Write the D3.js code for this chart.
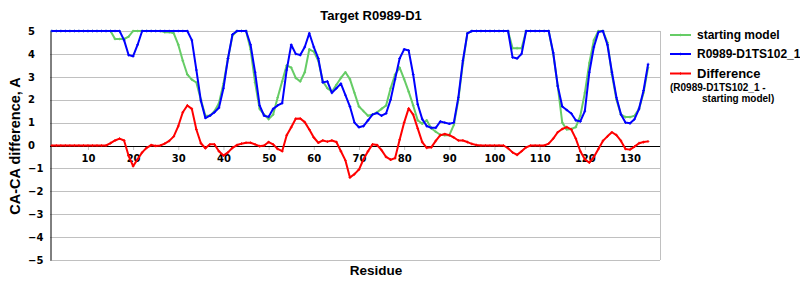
<!DOCTYPE html>
<html>
<head>
<meta charset="utf-8">
<script src="https://cdn.jsdelivr.net/npm/d3@7"></script>
<style>
    body { margin: 0; background: #ffffff; }
    text { font-family: "Liberation Sans", Arial, sans-serif; font-weight: bold; fill: #000; }
    .tick text { font-family: "DejaVu Sans", Verdana, sans-serif; font-size: 10px; }
</style>
</head>
<body>
<script>
"use strict";
// residues run from 2 to 134, one value per residue
const firstResidue = 2
const lastResidue = 134

const startingModel = [
    5, 5, 5, 5, 5, 5, 5, 5, 5, 5,
    5, 5, 5, 5, 4.65, 4.65, 4.65, 4.75, 5, 5,
    5, 5, 5, 5, 5, 4.95, 4.95, 4.9, 4.4, 3.7,
    3.1, 2.88, 2.75, 2.0, 1.3, 1.3, 1.5, 1.85, 2.7, 3.8,
    4.8, 5, 5, 5, 4.2, 2.75, 1.6, 1.35, 1.15, 1.35,
    2.1, 2.8, 3.5, 3.4, 2.95, 2.8, 3.2, 4.2, 4.1, 3.7,
    2.8, 2.5, 2.35, 2.65, 2.95, 3.2, 2.9, 2.3, 1.7, 1.5,
    1.3, 1.35, 1.45, 1.6, 1.75, 2.5, 3.1, 3.4, 2.9, 2.35,
    1.75, 1.1, 0.95, 1.1, 0.75, 0.6, 0.47, 0.45, 0.45, 0.9,
    2.0, 3.6, 4.9, 5, 5, 5, 5, 5, 5, 5,
    5, 5, 4.25, 4.25, 4.25, 5, 5, 5, 5, 5,
    5, 4.0, 2.6, 1.0, 0.7, 0.72, 0.8, 1.3, 2.3, 3.6,
    4.6, 5, 5, 4.5, 3.1, 2.0, 1.35, 1.24, 1.24, 1.3,
    1.6, 2.3, 3.4
]

const targetModel = [
    5, 5, 5, 5, 5, 5, 5, 5, 5, 5,
    5, 5, 5, 5, 5, 5, 4.6, 3.95, 3.9, 4.4,
    5, 5, 5, 5, 5, 5, 5, 5, 5, 5,
    5, 4.6, 3.3, 1.95, 1.2, 1.3, 1.45, 1.65, 2.5, 3.8,
    4.85, 5, 5, 5, 4.4, 3.2, 1.75, 1.3, 1.25, 1.6,
    1.75, 1.85, 3.3, 4.4, 4.0, 3.95, 4.3, 4.9, 4.3, 3.8,
    2.75, 2.8, 2.3, 2.5, 2.7, 2.2, 1.7, 1.0, 0.8, 0.85,
    1.1, 1.35, 1.42, 1.3, 1.4, 2.0, 2.9, 3.8, 4.2, 4.15,
    3.1, 1.8, 1.15, 0.85, 0.77, 0.77, 1.05, 1.0, 0.95, 1.0,
    2.1, 3.7, 4.9, 5, 5, 5, 5, 5, 5, 5,
    5, 5, 3.85, 3.8, 4.0, 5, 5, 5, 5, 5,
    5, 4.05, 2.6, 1.7, 1.55, 1.4, 1.1, 1.05, 1.5, 3.2,
    4.3, 4.95, 5, 4.4, 3.2, 2.1, 1.35, 1.0, 0.97, 1.15,
    1.6, 2.4, 3.55
]

const difference = [
    0, 0, 0, 0, 0, 0, 0, 0, 0, 0,
    0, 0, 0, 0.1, 0.22, 0.3, 0.22, -0.45, -0.9, -0.6,
    -0.3, -0.1, 0.02, -0.02, 0, 0.08, 0.2, 0.4, 0.85, 1.45,
    1.75, 1.6, 0.7, 0.1, -0.12, 0.05, 0.05, -0.25, -0.44, -0.3,
    -0.1, 0.02, 0.08, 0.12, 0.12, 0.05, -0.03, 0, 0.15, 0.05,
    -0.15, -0.25, 0.45, 0.8, 1.17, 1.18, 1.02, 0.7, 0.35, 0.12,
    0.22, 0.17, 0.22, 0.15, -0.25, -0.65, -1.4, -1.25, -1.05, -0.6,
    -0.25, 0.05, 0.02, -0.2, -0.5, -0.62, -0.55, 0.25, 1.0, 1.62,
    1.35, 0.75, 0.15, -0.1, -0.08, 0.2, 0.45, 0.5, 0.45, 0.35,
    0.22, 0.22, 0.15, 0.07, 0.02, 0, 0, 0, 0, 0,
    0, -0.12, -0.3, -0.41, -0.25, -0.08, 0, 0, 0, 0,
    0.08, 0.3, 0.58, 0.72, 0.8, 0.7, 0.3, -0.25, -0.6, -0.75,
    -0.5, -0.15, 0.2, 0.4, 0.58, 0.45, 0.2, -0.15, -0.18, -0.05,
    0.1, 0.15, 0.18
]

const xTickValues = [10, 20, 30, 40, 50, 60, 70, 80, 90, 100, 110, 120, 130]
const yTickValues = [5, 4, 3, 2, 1, 0, -1, -2, -3, -4, -5]
const seriesNames = ["starting model", "R0989-D1TS102_1", "Difference"]
const seriesColors = ["#66cc66", "#0000ff", "#ff0000"]

const residues = d3.range(firstResidue, lastResidue + 1)

// dimensions for svg and plot area
const measurements = {
    width: 800,
    height: 300,
    plotLeft: 50,
    plotRight: 660,
    plotTop: 31,
    plotBottom: 260
}

const svg = d3.select("body").append("svg")
    .attr("width", measurements.width)
    .attr("height", measurements.height)

svg.append("rect")
    .attr("width", measurements.width)
    .attr("height", measurements.height)
    .attr("fill", "#ffffff")

const scaleX = d3.scaleLinear()
    .domain([1.6, 136.64])
    .range([measurements.plotLeft, measurements.plotRight])

const scaleY = d3.scaleLinear()
    .domain([-5, 5])
    .range([measurements.plotBottom, measurements.plotTop])

// horizontal grid lines
svg.append("g")
    .selectAll("line")
    .data(yTickValues.filter((v) => v !== 0))
    .enter()
    .append("line")
        .attr("x1", measurements.plotLeft)
        .attr("x2", measurements.plotRight)
        .attr("y1", (d) => Math.round(scaleY(d)) + 0.5)
        .attr("y2", (d) => Math.round(scaleY(d)) + 0.5)
        .attr("stroke", "#c0c0c0")
        .attr("stroke-width", 1)

// right border of the plot area
svg.append("line")
    .attr("x1", measurements.plotRight + 0.5)
    .attr("x2", measurements.plotRight + 0.5)
    .attr("y1", measurements.plotTop)
    .attr("y2", measurements.plotBottom)
    .attr("stroke", "#c0c0c0")

// x axis sits on the zero line
const xAxis = d3.axisBottom(scaleX)
    .tickValues(xTickValues)
    .tickSize(4)
    .tickPadding(5)
    .tickFormat(d3.format("d"))

const xAxisGroup = svg.append("g")
    .attr("transform", `translate(0,${Math.round(scaleY(0))})`)
    .call(xAxis)
xAxisGroup.select(".domain").remove()
xAxisGroup.selectAll(".tick line").attr("stroke", "#c0c0c0")

svg.append("line")
    .attr("x1", measurements.plotLeft)
    .attr("x2", measurements.plotRight)
    .attr("y1", Math.round(scaleY(0)) + 0.5)
    .attr("y2", Math.round(scaleY(0)) + 0.5)
    .attr("stroke", "#000000")

// y axis, labels left aligned like the original
const yAxis = d3.axisLeft(scaleY)
    .tickValues(yTickValues)
    .tickSize(0)
    .tickPadding(0)
    .tickFormat(d3.format("d"))

const yAxisGroup = svg.append("g")
    .attr("transform", `translate(${measurements.plotLeft},0)`)
    .call(yAxis)
yAxisGroup.select(".domain")
    .attr("stroke", "#000000")
    .attr("transform", "translate(0.5,0)")
yAxisGroup.selectAll(".tick text")
    .attr("text-anchor", "start")
    .attr("x", -22)

// series lines
const allSeries = [startingModel, targetModel, difference]
const line = d3.line()
    .x((d, i) => scaleX(residues[i]))
    .y((d) => scaleY(d))

const marker = d3.symbol().type(d3.symbolCross).size(4)

allSeries.forEach((values, s) => {
    const g = svg.append("g")
    g.append("path")
        .datum(values)
        .attr("d", line)
        .attr("fill", "none")
        .attr("stroke", seriesColors[s])
        .attr("stroke-width", 2)
        .attr("stroke-linejoin", "round")
    g.selectAll(".marker")
        .data(values)
        .enter()
        .append("path")
            .attr("class", "marker")
            .attr("d", marker)
            .attr("transform", (d, i) => `translate(${scaleX(residues[i])},${scaleY(d)})`)
            .attr("fill", seriesColors[s])
})

// titles
svg.append("text")
    .attr("x", 371)
    .attr("y", 19.5)
    .attr("text-anchor", "middle")
    .style("font-size", "13px")
    .text("Target R0989-D1")

svg.append("text")
    .attr("x", 376)
    .attr("y", 275)
    .attr("text-anchor", "middle")
    .style("font-size", "13.5px")
    .text("Residue")

svg.append("text")
    .attr("transform", "translate(20,146) rotate(-90)")
    .attr("text-anchor", "middle")
    .style("font-size", "14.5px")
    .text("CA-CA difference, A")

// legend
const legendY = [35, 54, 73.5]
const legend = svg.append("g")
seriesNames.forEach((name, s) => {
    legend.append("line")
        .attr("x1", 670)
        .attr("x2", 691)
        .attr("y1", legendY[s])
        .attr("y2", legendY[s])
        .attr("stroke", seriesColors[s])
        .attr("stroke-width", 2)
    legend.append("path")
        .attr("d", marker)
        .attr("transform", `translate(680.5,${legendY[s]})`)
        .attr("fill", seriesColors[s])
    legend.append("text")
        .attr("x", 697)
        .attr("y", legendY[s] + (s === 2 ? 4.8 : 4.3))
        .style("font-size", s === 2 ? "13px" : "12px")
        .text(name)
})
legend.append("text")
    .attr("x", 670)
    .attr("y", 90.5)
    .style("font-size", "10px")
    .text("(R0989-D1TS102_1 -")
legend.append("text")
    .attr("x", 702)
    .attr("y", 101.5)
    .style("font-size", "10px")
    .text("starting model)")
</script>
</body>
</html>
